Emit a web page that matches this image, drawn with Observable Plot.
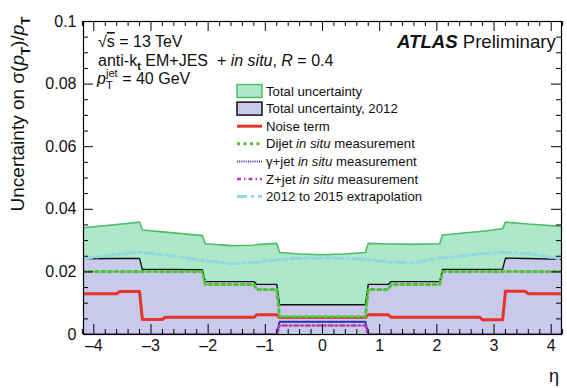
<!DOCTYPE html>
<html>
<head>
<meta charset="utf-8">
<script src="https://cdn.jsdelivr.net/npm/d3@7"></script>
<script src="https://cdn.jsdelivr.net/npm/@observablehq/plot@0.6"></script>
<style>
  html, body { margin: 0; padding: 0; background: #fff; }
  svg text { font-family: "Liberation Sans", Arial, Helvetica, sans-serif; }
</style>
</head>
<body>
<script>
// Jet energy resolution uncertainty vs pseudorapidity, pT = 40 GeV
const eta = [-4.2, -3.6, -3.55, -3.2, -3.15, -2.8, -2.75, -2.1, -2.05, -1.6, -1.2, -1.15, -0.8, -0.75, -0.4, 0,
             0.4, 0.75, 0.8, 1.15, 1.2, 1.6, 2.05, 2.1, 2.75, 2.8, 3.15, 3.2, 3.55, 3.6, 4.2];

const totalUnc = [0.0341, 0.0351, 0.0352, 0.0359, 0.0334, 0.0328, 0.0327, 0.0316, 0.0290, 0.0284, 0.0285, 0.0287, 0.0291, 0.0262, 0.0257, 0.0255,
                  0.0257, 0.0262, 0.0291, 0.0289, 0.0289, 0.0288, 0.0290, 0.0318, 0.0329, 0.0330, 0.0338, 0.0359, 0.0354, 0.0353, 0.0345];

const total2012 = [0.0242, 0.0243, 0.0243, 0.0243, 0.0208, 0.0208, 0.0208, 0.0207, 0.0169, 0.0169, 0.0169, 0.0160, 0.0160, 0.0095, 0.0095, 0.0095,
                   0.0095, 0.0095, 0.0160, 0.0160, 0.0169, 0.0169, 0.0169, 0.0208, 0.0208, 0.0208, 0.0209, 0.0244, 0.0243, 0.0243, 0.0240];

const noiseTerm = [0.0130, 0.0130, 0.0137, 0.0137, 0.0048, 0.0048, 0.0055, 0.0055, 0.0055, 0.0055, 0.0055, 0.0063, 0.0063, 0.0054, 0.0054, 0.0054,
                   0.0054, 0.0054, 0.0063, 0.0063, 0.0055, 0.0055, 0.0055, 0.0055, 0.0055, 0.0047, 0.0047, 0.0138, 0.0138, 0.0130, 0.0130];

const dijet = [0.0201, 0.0201, 0.0201, 0.0201, 0.0201, 0.0201, 0.0201, 0.0201, 0.0160, 0.0160, 0.0160, 0.0144, 0.0144, 0.0057, 0.0057, 0.0057,
               0.0057, 0.0057, 0.0144, 0.0144, 0.0160, 0.0160, 0.0160, 0.0201, 0.0201, 0.0201, 0.0201, 0.0201, 0.0201, 0.0201, 0.0201];

const gammaJet = [0, 0, 0, 0, 0, 0, 0, 0, 0, 0, 0, 0, 0, 0.0041, 0.0041, 0.0041,
                  0.0041, 0.0041, 0, 0, 0, 0, 0, 0, 0, 0, 0, 0, 0, 0, 0];

const zJet = [0, 0, 0, 0, 0, 0, 0, 0, 0, 0, 0, 0, 0, 0.0029, 0.0029, 0.0029,
              0.0029, 0.0029, 0, 0, 0, 0, 0, 0, 0, 0, 0, 0, 0, 0, 0];

const extrap = [0.0242, 0.0256, 0.0257, 0.0263, 0.0262, 0.0255, 0.0254, 0.0237, 0.0236, 0.0226, 0.0230, 0.0231, 0.0239, 0.0240, 0.0243, 0.0244,
                0.0243, 0.0240, 0.0239, 0.0232, 0.0231, 0.0229, 0.0244, 0.0245, 0.0257, 0.0258, 0.0263, 0.0263, 0.0259, 0.0258, 0.0241];

const xMajor = [-4, -3, -2, -1, 0, 1, 2, 3, 4];
const xMinor = d3.range(-42, 43, 2).map(v => v / 10).filter(v => !Number.isInteger(v));
const yMajor = [0, 0.02, 0.04, 0.06, 0.08, 0.1];
const yMinor = d3.range(0, 101, 5).map(v => v / 1000).filter((v, i) => i % 4 !== 0);

const legendLabels = ["Total uncertainty", "Total uncertainty, 2012", "Noise term",
  "Dijet |in situ| measurement", "γ+jet |in situ| measurement", "Z+jet |in situ| measurement", "2012 to 2015 extrapolation"];

const rows = eta.map((e, i) => ({
  eta: e, total: totalUnc[i], t2012: total2012[i], noise: noiseTerm[i],
  dijet: dijet[i], gamma: gammaJet[i], z: zJet[i], extrap: extrap[i]
}));

// styles
const C = {
  greenFill: "#ade8c9", greenLine: "#4dbf6b",
  blueFill: "#c9c9ec", black: "#111",
  red: "#e8332a", dijet: "#4fc23a", gamma: "#2b2bb0", z: "#b23fb5", extrap: "#94d6e2"
};
const S = {
  noise: {stroke: C.red, strokeWidth: 3},
  dijet: {stroke: C.dijet, strokeWidth: 3, strokeDasharray: "3,3.5"},
  gamma: {stroke: C.gamma, strokeWidth: 2, strokeDasharray: "1,1.2"},
  z: {stroke: C.z, strokeWidth: 2.5, strokeDasharray: "4,3,1.5,3"},
  extrap: {stroke: C.extrap, strokeWidth: 3, strokeDasharray: "10,4,3,4"}
};

const W = 567, H = 388, mL = 83, mR = 6, mT = 21, mB = 54;
const plotW = W - mL - mR, plotH = H - mT - mB;
const majLen = 10, minLen = 5;

const chart = Plot.plot({
  width: W, height: H,
  marginLeft: mL, marginRight: mR, marginTop: mT, marginBottom: mB,
  x: {domain: [-4.18, 4.18], label: null},
  y: {domain: [0, 0.1], label: null},
  style: {fontFamily: "Liberation Sans, Arial, sans-serif", background: "white"},
  marks: [
    Plot.areaY(rows, {x: "eta", y: "total", fill: C.greenFill, clip: true}),
    Plot.lineY(rows, {x: "eta", y: "total", stroke: C.greenLine, strokeWidth: 1.6, clip: true}),
    Plot.areaY(rows, {x: "eta", y: "t2012", fill: C.blueFill, clip: true}),
    Plot.lineY(rows, {x: "eta", y: "t2012", stroke: C.black, strokeWidth: 1.4, clip: true}),
    Plot.lineY(rows, {x: "eta", y: "extrap", ...S.extrap, clip: true}),
    Plot.lineY(rows, {x: "eta", y: "noise", ...S.noise, clip: true}),
    Plot.lineY(rows, {x: "eta", y: "dijet", ...S.dijet, clip: true}),
    Plot.lineY(rows, {x: "eta", y: "gamma", ...S.gamma, clip: true}),
    Plot.lineY(rows, {x: "eta", y: "z", ...S.z, clip: true}),
    // inward ticks on all four sides
    Plot.tickX(xMajor, {x: d => d, insetTop: plotH - majLen, stroke: "black"}),
    Plot.tickX(xMinor, {x: d => d, insetTop: plotH - minLen, stroke: "black"}),
    Plot.tickX(xMajor, {x: d => d, insetBottom: plotH - majLen, stroke: "black"}),
    Plot.tickX(xMinor, {x: d => d, insetBottom: plotH - minLen, stroke: "black"}),
    Plot.tickY(yMajor, {y: d => d, insetRight: plotW - majLen, stroke: "black"}),
    Plot.tickY(yMinor, {y: d => d, insetRight: plotW - minLen, stroke: "black"}),
    Plot.tickY(yMajor, {y: d => d, insetLeft: plotW - majLen, stroke: "black"}),
    Plot.tickY(yMinor, {y: d => d, insetLeft: plotW - minLen, stroke: "black"}),
    Plot.axisX({ticks: xMajor, tickSize: 0, tickPadding: 5, fontSize: 16, fill: "#111",
      tickFormat: d => d < 0 ? "\u2013" + (-d) : String(d)}),
    Plot.axisY({ticks: yMajor, tickSize: 0, tickPadding: 7, fontSize: 16, fill: "#111",
      tickFormat: d => d === 0 ? "0" : String(d)}),
    Plot.frame({stroke: "black", strokeWidth: 1.2})
  ]
});
document.body.appendChild(chart);

const svg = d3.select(chart);

// rich text helper: segments of [text, style] with style flags i (italic), b (bold), sub, sup
function rich(g, x, y, size, segs) {
  const t = g.append("text").attr("x", x).attr("y", y).attr("font-size", size)
    .attr("fill", "#111").attr("text-anchor", "start");
  let shift = 0;
  segs.forEach(([s, st = ""]) => {
    const ts = t.append("tspan").text(s);
    if (st.includes("i")) ts.attr("font-style", "italic");
    if (st.includes("b")) ts.attr("font-weight", "bold");
    let target = 0;
    if (st.includes("sub")) { target = 0.3 * size; ts.attr("font-size", size * 0.7); }
    if (st.includes("sup")) { target = -0.45 * size; ts.attr("font-size", size * 0.7); }
    if (st.includes("o")) ts.attr("text-decoration", "overline");
    if (target !== shift) { ts.attr("dy", target - shift); shift = target; }
  });
  return t;
}

const g = svg.append("g");
// header annotations
const fs = 16;
rich(g, 98, 47, fs, [["\u221A"], ["s", "o"], [" = 13 TeV"]]);
rich(g, 98, 65.5, fs, [["anti-k"], ["t", "sub"], [" EM+JES  + "], ["in situ", "i"], [", "], ["R", "i"], [" = 0.4"]]);
{
  const t = rich(g, 97, 84, fs, [["p", "i"], ["jet", "sup"]]);
  const jetLen = t.select("tspan:nth-child(2)").node().getComputedTextLength();
  const tT = t.append("tspan").text("T").attr("font-size", fs * 0.7).attr("dx", -jetLen).attr("dy", 0.75 * fs);
  const tLen = tT.node().getComputedTextLength();
  t.append("tspan").text(" = 40 GeV").attr("dy", -0.3 * fs).attr("dx", jetLen - tLen);
}
rich(g, 397, 48, 18.6, [["ATLAS", "bi"], [" Preliminary"]]);

// axis titles
rich(g, 0, 0, 19, [["Uncertainty on \u03C3("], ["p", "i"], ["T", "sub"], [")/", ""], ["p", "i"], ["T", "sub"]])
  .attr("transform", "translate(24,114) rotate(-90)").attr("text-anchor", "middle");
rich(g, 549, 382, 18, [["\u03B7"]]);

// legend
const lx = 237, lw = 25, ly0 = 91, ldy = 17.6;
const lg = svg.append("g");
legendLabels.forEach((lab, i) => {
  const y = ly0 + i * ldy;
  if (i === 0) lg.append("rect").attr("x", lx).attr("y", y - 6.5).attr("width", lw).attr("height", 13)
    .attr("fill", C.greenFill).attr("stroke", C.greenLine).attr("stroke-width", 1.5);
  else if (i === 1) lg.append("rect").attr("x", lx).attr("y", y - 6.5).attr("width", lw).attr("height", 13)
    .attr("fill", C.blueFill).attr("stroke", C.black).attr("stroke-width", 1.5);
  else {
    const st = [S.noise, S.dijet, S.gamma, S.z, S.extrap][i - 2];
    lg.append("line").attr("x1", lx).attr("x2", lx + lw).attr("y1", y).attr("y2", y)
      .attr("stroke", st.stroke).attr("stroke-width", st.strokeWidth)
      .attr("stroke-dasharray", st.strokeDasharray || null);
  }
  const parts = lab.split("|").map((s, k) => [s, k % 2 ? "i" : ""]);
  rich(lg, 266, y + 4.6, 13.2, parts);
});
</script>
</body>
</html>
